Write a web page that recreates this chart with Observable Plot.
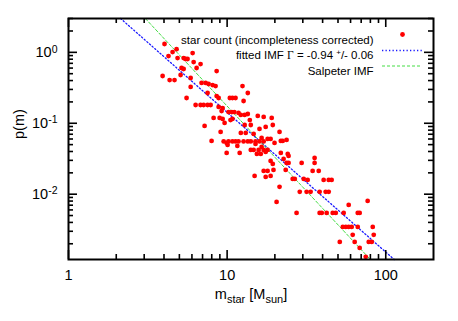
<!DOCTYPE html>
<html><head><meta charset="utf-8">
<script src="https://cdn.jsdelivr.net/npm/d3@7"></script>
<script src="https://cdn.jsdelivr.net/npm/@observablehq/plot@0.6"></script>
<style>html,body{margin:0;padding:0;background:#fff;overflow:hidden}svg{display:block}</style>
</head><body><div id="chart"></div>
<script>
const mass = [4.03,4.80,4.53,4.27,4.87,5.32,5.47,5.63,6.06,6.15,6.80,6.42,5.16,5.32,5.89,3.92,4.34,4.66,5.09,8.59,6.90,7.32,7.64,8.10,8.46,5.89,7.53,8.59,8.84,10.4,10.8,11.3,5.55,6.33,6.80,7.11,7.53,7.87,8.84,9.37,12.5,13.5,12.7,
9.23,10.2,10.7,11.1,11.8,8.22,8.97,9.37,10.5,10.8,9.64,7.21,9.10,7.98,9.51,10.2,10.8,11.3,11.8,9.93,10.07,11.6,9.93,12.0,12.2,12.9,13.5,15.6,17.0,19.1,13.9,12.9,14.1,16.0,17.5,19.4,21.4,12.2,13.1,14.7,12.7,13.5,14.1,15.1,16.0,17.0,15.1,19.9,21.8,22.4,23.7,16.5,18.0,18.8,14.1,14.7,15.8,17.0,17.5,18.0,15.4,16.3,21.8,24.1,24.4,16.5,35.6,
18.8,19.4,22.7,23.7,24.4,29.5,35.6,17.0,18.0,19.6,23.4,34.6,37.8,14.9,17.5,18.8,25.9,26.7,30.4,32.2,40.6,43.7,45.6,21.4,28.7,31.7,33.6,38.3,41.8,43.7,20.5,27.4,38.3,39.5,42.4,
76.9,58.4,46.3,48.4,54.3,66.6,68.5,53.6,56.0,58.4,61.0,66.6,82.8,61.9,84.0,51.3,63.7,78.1,81.6,68.5,74.8];
const prob = [1.31,1.11,1.01,0.887,0.831,0.831,0.805,0.805,0.977,0.730,0.684,0.601,0.601,0.582,0.435,0.464,0.407,0.407,0.479,0.545,0.370,0.370,0.358,0.346,0.335,0.325,0.267,0.242,0.227,0.227,0.227,0.227,0.227,0.181,0.181,0.181,0.181,0.181,0.170,0.164,0.335,0.267,0.206,
0.149,0.144,0.144,0.144,0.140,0.119,0.119,0.115,0.111,0.115,0.101,0.0916,0.0754,0.0563,0.0555,0.0555,0.0555,0.0555,0.0555,0.0528,0.0495,0.0479,0.0382,0.0382,0.131,0.131,0.135,0.127,0.123,0.119,0.111,0.0946,0.0946,0.0832,0.0887,0.0946,0.0754,0.0730,0.0730,0.0707,0.0555,0.0555,0.0555,0.0555,0.0555,0.0555,0.0511,0.0528,0.0563,0.0563,0.0582,0.0621,0.0601,0.0601,0.0421,0.0421,0.0421,0.0421,0.0394,0.0421,0.037,0.037,0.0382,0.037,0.0346,0.0464,0.0324,
0.0294,0.0267,0.0314,0.0276,0.0276,0.0276,0.0276,0.0213,0.0213,0.0220,0.0220,0.0213,0.0213,0.0181,0.0175,0.0181,0.0164,0.0164,0.0164,0.0159,0.0159,0.0159,0.0159,0.0127,0.0108,0.0108,0.0108,0.0108,0.0108,0.0108,0.00778,0.00544,0.00544,0.00544,0.00544,
0.00804,0.00706,0.00544,0.00544,0.00544,0.00544,0.00544,0.00346,0.00346,0.00346,0.00346,0.00346,0.00346,0.00267,0.00267,0.00212,0.00212,0.00212,0.00212,0.00175,0.00131];

const fitMass = [2.13, 113];
const fitProb = [3.0, 0.0012];
const salpeterMass = [3.05, 80];
const salpeterProb = [3.0, 0.0012];

const xMajor = [1, 10, 100];
const xMinor = [2,3,4,5,6,7,8,9,20,30,40,50,60,70,80,90];
const yMajor = [0.01, 0.1, 1];
const yMinor = [0.002,0.003,0.004,0.005,0.006,0.007,0.008,0.009,0.02,0.03,0.04,0.05,0.06,0.07,0.08,0.09,0.2,0.3,0.4,0.5,0.6,0.7,0.8,0.9,2,3];

const legendStar = "star count (incompleteness corrected)";
const legendFit = "fitted IMF Γ = -0.94 +/- 0.06";
const legendSal = "Salpeter IMF";
const xLabel = "m_star [M_sun]";
const yLabel = "p(m)";

const points = mass.map((m, i) => ({m, p: prob[i]}));
const fitLine = fitMass.map((m, i) => ({m, p: fitProb[i]}));
const salLine = salpeterMass.map((m, i) => ({m, p: salpeterProb[i]}));

const W = 458, H = 321, ML = 68, MR = 25, MT = 18, MB = 62;
const FW = W - ML - MR, FH = H - MT - MB;
const RED = "#ff0000", BLUE = "#1a1aff", GREEN = "#44dd44";
const FONT = "'Liberation Sans', Arial, Helvetica, sans-serif";

const chart = Plot.plot({
  width: W, height: H,
  marginLeft: ML, marginRight: MR, marginTop: MT, marginBottom: MB,
  style: {fontFamily: FONT, fontSize: "14.5px", color: "#000", background: "#fff"},
  x: {type: "log", domain: [1, 200], label: null},
  y: {type: "log", domain: [0.0012, 3], label: null},
  marks: [
    Plot.line(fitLine, {x: "m", y: "p", stroke: BLUE, strokeWidth: 1.3, strokeDasharray: "1.3,2.2"}),
    Plot.line(salLine, {x: "m", y: "p", stroke: GREEN, strokeWidth: 1, strokeDasharray: "3,2"}),
    Plot.dot(points, {x: "m", y: "p", r: 2.4, fill: RED, stroke: "none"}),
    Plot.tickX(xMajor, {x: d => d, insetTop: FH - 9, strokeWidth: 1.6}),
    Plot.tickX(xMajor, {x: d => d, insetBottom: FH - 9, strokeWidth: 1.6}),
    Plot.tickX(xMinor, {x: d => d, insetTop: FH - 5, strokeWidth: 1.6}),
    Plot.tickX(xMinor, {x: d => d, insetBottom: FH - 5, strokeWidth: 1.6}),
    Plot.tickY(yMajor, {y: d => d, insetRight: FW - 9, strokeWidth: 1.6}),
    Plot.tickY(yMajor, {y: d => d, insetLeft: FW - 9, strokeWidth: 1.6}),
    Plot.tickY(yMinor, {y: d => d, insetRight: FW - 5, strokeWidth: 1.6}),
    Plot.tickY(yMinor, {y: d => d, insetLeft: FW - 5, strokeWidth: 1.6}),
    Plot.frame({stroke: "#000", strokeWidth: 2}),
    Plot.axisX({ticks: xMajor, tickSize: 0, tickPadding: 10, tickFormat: d => String(d), fontSize: 14.5}),
    Plot.axisY({ticks: yMajor, tickSize: 0, tickPadding: 11, tickFormat: d => "10^" + Math.round(Math.log10(d)), fontSize: 14.5}),
    Plot.text([legendStar], {frameAnchor: "top-right", dx: -60, dy: 17, textAnchor: "end", fontSize: 11.5}),
    Plot.text([legendFit], {frameAnchor: "top-right", dx: -60, dy: 32.5, textAnchor: "end", fontSize: 11.5}),
    Plot.text([legendSal], {frameAnchor: "top-right", dx: -60, dy: 48, textAnchor: "end", fontSize: 11.5}),
    Plot.dot([legendStar], {frameAnchor: "top-right", dx: -31, dy: 16, r: 2.4, fill: RED, stroke: "none"}),
    Plot.text([xLabel], {frameAnchor: "bottom", dy: 39, fontSize: 14.5}),
    Plot.text([yLabel], {frameAnchor: "left", dx: -49, rotate: -90, fontSize: 14.5})
  ]
});
document.getElementById("chart").appendChild(chart);

const svg = d3.select(chart);
svg.selectAll("text").each(function() {
  const t = d3.select(this);
  const s = t.text();
  if (/^10\^-?\d+$/.test(s)) {
    const [b, e] = s.split("^");
    t.text(null);
    t.append("tspan").text(b);
    t.append("tspan").attr("dy", "-0.42em").attr("font-size", 10.5).text(e);
  } else if (s === xLabel) {
    t.text(null);
    t.append("tspan").text("m");
    t.append("tspan").attr("dy", 4).attr("font-size", 11).text("star");
    t.append("tspan").attr("dy", -4).text(" [M");
    t.append("tspan").attr("dy", 4).attr("font-size", 11).text("sun");
    t.append("tspan").attr("dy", -4).text("]");
  } else if (s === legendFit) {
    t.text(null);
    t.append("tspan").text("fitted IMF ");
    t.append("tspan").attr("font-family", "'Liberation Serif', 'DejaVu Serif', serif").text("Γ");
    t.append("tspan").text(" = -0.94 ");
    t.append("tspan").attr("dy", -4).attr("font-size", 8).text("+");
    t.append("tspan").attr("dy", 4).text("/- 0.06");
  }
});
const lx1 = W - MR - 51, lx2 = W - MR - 11;
svg.append("line").attr("x1", lx1).attr("x2", lx2).attr("y1", MT + 32.5).attr("y2", MT + 32.5)
  .attr("stroke", BLUE).attr("stroke-width", 1.3).attr("stroke-dasharray", "1.3,2.2");
svg.append("line").attr("x1", lx1).attr("x2", lx2).attr("y1", MT + 48).attr("y2", MT + 48)
  .attr("stroke", GREEN).attr("stroke-width", 1).attr("stroke-dasharray", "3,2");
</script>
</body></html>
